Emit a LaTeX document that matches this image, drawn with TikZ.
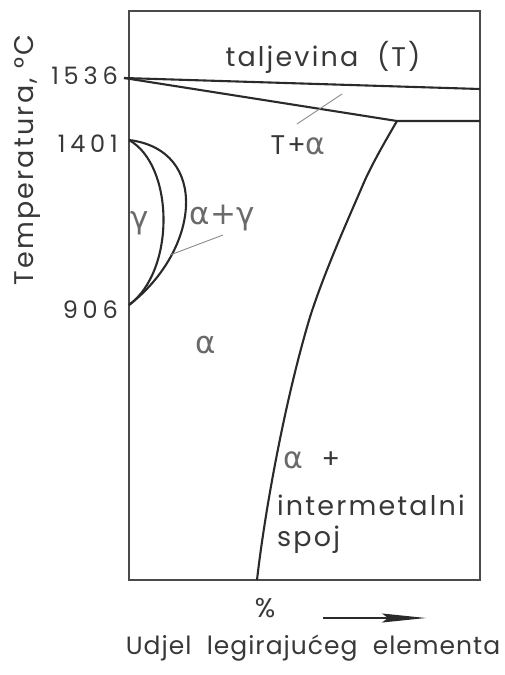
\documentclass[tikz,border=0pt]{standalone}
\usepackage{fontspec}
\setmainfont{Poppins}[LetterSpace=8, WordSpace=2]
\newfontfamily\xlf{Poppins}[LetterSpace=4, WordSpace=2]
\newfontfamily\ylf{Poppins}[LetterSpace=8]
\newfontfamily\numf{Poppins}[LetterSpace=20]
\newfontfamily\grk{DejaVu Sans}
\usetikzlibrary{arrows.meta}
\definecolor{ink}{HTML}{2A2A2A}
\definecolor{txt}{HTML}{383838}
\definecolor{lead}{HTML}{8A8A8A}
\definecolor{grl}{HTML}{6A6A6A}
\tikzset{
  phase/.style={draw=ink, line width=2.1pt, line join=round},
  frame/.style={draw=ink!85, line width=1.8pt},
  leader/.style={draw=lead, line width=0.9pt},
  lbl/.style={text=txt, inner sep=0pt, font=\fontsize{27}{29}\selectfont},
  xlbl/.style={text=txt, inner sep=0pt, font=\xlf\fontsize{25}{27}\selectfont},
  ylbl/.style={text=txt, inner sep=0pt, font=\ylf\fontsize{27}{29}\selectfont},
  num/.style={text=txt, inner sep=0pt, anchor=east, font=\numf\fontsize{24}{26}\selectfont},
  glbl/.style={text=grl, inner sep=0pt, font=\fontsize{31}{33}\selectfont},
}
\begin{document}
\begin{tikzpicture}[x=1pt,y=-1pt]
\useasboundingbox (0,0) rectangle (504,675);
% frame
\coordinate (tl) at (129,11);
\coordinate (br) at (480,580);
\draw[frame] (tl) rectangle (br);
% key points
\coordinate (m) at (124,78);
\coordinate (mr) at (480,89);
\coordinate (sc) at (397,121);
\coordinate (sr) at (480,121);
\coordinate (gt) at (129,140);
\coordinate (gb) at (129,305);
\coordinate (sv1) at (365,180);
\coordinate (sv2) at (310,317);
\coordinate (sv3) at (257,580);
% liquidus and solidus
\draw[phase] (m) -- (mr);
\draw[phase] (m) -- (sc) -- (sr);
% solvus
\draw[phase] (sc) .. controls (380,150) and (372,165) .. (sv1)
  .. controls (350,215) and (325,270) .. (sv2)
  .. controls (285,400) and (265,510) .. (sv3);
% gamma loop
\draw[phase] (gt) .. controls (174,165) and (176,270) .. (gb);
\draw[phase] (gt) .. controls (210,150) and (200,250) .. (gb);
% leaders
\coordinate (l1a) at (297,124);
\coordinate (l1b) at (342,94);
\coordinate (l2a) at (170,255);
\coordinate (l2b) at (223,235);
\draw[leader] (l1a) -- (l1b);
\draw[leader] (l2a) -- (l2b);
% axis numbers
\node[num] (n1536) at (118,76) {1536};
\node[num] (n1401) at (118,144) {1401};
\node[num] (n906) at (118,310) {906};
\node[ylbl, rotate=90] (ylab) at (27,160) {Temperatura, °C};
% region labels
\node[lbl] (liq) at (323,57) {taljevina (T)};
\node[lbl] (ta) at (298,145) {T+{\grk\color{grl}\fontsize{30}{32}\selectfont α}};
\node[glbl] (gam) at (140,223) {\grk γ};
\node[glbl] (ag) at (222,218) {\grk α+γ};
\node[glbl] (alf) at (206,345) {\grk α};
\node[lbl, anchor=west] (ap) at (283,460) {{\grk\color{grl}\fontsize{30}{32}\selectfont α} +};
\node[lbl, anchor=west] (im) at (277,505) {intermetalni};
\node[lbl, anchor=west] (sp) at (277,540) {spoj};
% bottom
\node[lbl] (pct) at (265,608) {\%};
\coordinate (a1) at (323,618);
\coordinate (a2) at (426,618);
\draw[draw=ink, line width=1.6pt, -{Stealth[length=44pt,width=9pt,inset=6pt]}] (a1) -- (a2);
\node[xlbl] (xlab) at (313,648) {Udjel legirajućeg elementa};
\end{tikzpicture}
\end{document}
